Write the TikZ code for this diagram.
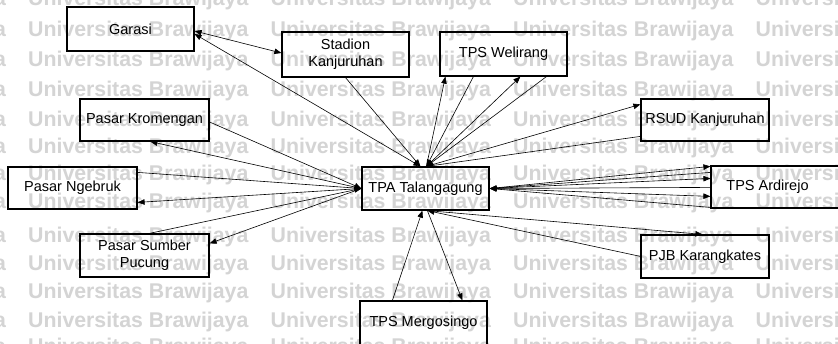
\documentclass[tikz,border=0pt]{standalone}
\usepackage{fontspec}
\setmainfont{Liberation Sans}
\usetikzlibrary{arrows.meta,calc}
\definecolor{wmgray}{RGB}{212,212,212}
\begin{document}
\begin{tikzpicture}[x=1pt,y=-1pt,
  box/.style={draw,line width=1.2pt,minimum width=127pt,minimum height=44pt,
    inner sep=0pt,font=\fontsize{14.5}{16.5}\selectfont,align=center},
  link/.style={line width=0.6pt},
  arr/.style={link,-{Triangle[length=7pt,width=5.5pt]}},
  both/.style={link,{Triangle[length=7pt,width=5.5pt]}-{Triangle[length=7pt,width=5.5pt]}},
  wm/.style={text=wmgray,font=\bfseries\fontsize{21.3}{21.3}\selectfont,anchor=west,inner sep=0pt}
]
\useasboundingbox (0,0) rectangle (838,344);
\fill[white] (0,0) rectangle (838,344);

% background watermark rows
\foreach \y [count=\r] in {0,30.5,61,90.5,121,147.5,175,203,237,264.5,293,322,348} {
  \foreach \c in {-1,0,1,2,3} {
    \node[wm] (wm-\r-\c) at (28+242.5*\c, \y) {Universitas Brawijaya};
  }
}

% locations
\node[box,minimum width=127pt,minimum height=44pt] (garasi) at (130.5,29) {Garasi};
\node[box,minimum width=127pt,minimum height=45pt] (stadion) at (345.5,54.5) {Stadion\\Kanjuruhan};
\node[box,minimum width=127pt,minimum height=44pt] (welirang) at (503.5,54) {TPS Welirang};
\node[box,minimum width=129pt,minimum height=42pt] (kromengan) at (144.5,120) {Pasar Kromengan};
\node[box,minimum width=128pt,minimum height=42pt] (rsud) at (705,120) {RSUD Kanjuruhan};
\node[box,minimum width=129pt,minimum height=42pt] (ngebruk) at (72.5,188) {Pasar Ngebruk};
\node[box,minimum width=127pt,minimum height=43pt] (tpa) at (425.5,188.5) {TPA Talangagung};
\node[box,minimum width=134pt,minimum height=42pt] (ardirejo) at (778,187) {};
\node[inner sep=0pt,font=\fontsize{14.5}{16.5}\selectfont] (ardirejo-label) at (767.5,187) {TPS Ardirejo};
\node[box,minimum width=129pt,minimum height=43pt] (sumber) at (144.5,255.5) {Pasar Sumber\\Pucung};
\node[box,minimum width=128pt,minimum height=43pt] (pjb) at (705,256.5) {PJB Karangkates};
\node[box,minimum width=127pt,minimum height=44pt] (mergosingo) at (423.5,323) {TPS Mergosingo};

% connector end points on the box borders
\coordinate (tpaTL) at ($(tpa.north west)+(59,0)$);
\coordinate (tpaTR) at ($(tpa.north west)+(65,0)$);
\coordinate (tpaBL) at ($(tpa.south west)+(61,0)$);
\coordinate (tpaBR) at ($(tpa.south west)+(66,0)$);
\coordinate (gar1) at ($(garasi.east)+(0,2)$);
\coordinate (gar2) at ($(garasi.east)+(0,5)$);
\coordinate (sta1) at ($(stadion.west)+(0,-1.5)$);
\coordinate (wel1) at ($(welirang.south west)+(6,0)$);
\coordinate (wel2) at ($(welirang.south west)+(34,0)$);
\coordinate (wel3) at ($(welirang.south west)+(81,0)$);
\coordinate (wel4) at ($(welirang.south west)+(107,0)$);
\coordinate (rsud1) at ($(rsud.north west)+(0,6)$);
\coordinate (rsud2) at ($(rsud.north west)+(0,38)$);
\coordinate (krom1) at ($(kromengan.east)+(0,2)$);
\coordinate (krom2) at ($(kromengan.south west)+(71,0)$);
\coordinate (ngb1) at ($(ngebruk.north east)+(0,6)$);
\coordinate (ngb2) at ($(ngebruk.north east)+(0,36)$);
\coordinate (sum1) at ($(sumber.north west)+(70,0)$);
\coordinate (sum2) at ($(sumber.north east)+(0,10)$);
\coordinate (ard1) at ($(ardirejo.north west)+(0,1)$);
\coordinate (ard2) at ($(ardirejo.north west)+(0,7)$);
\coordinate (ard3) at ($(ardirejo.north west)+(0,13)$);
\coordinate (ard4) at ($(ardirejo.north west)+(0,22)$);
\coordinate (ard5) at ($(ardirejo.north west)+(0,31)$);
\coordinate (ard6) at ($(ardirejo.north west)+(0,42)$);
\coordinate (pjb1) at ($(pjb.north west)+(62,0)$);
\coordinate (pjb2) at ($(pjb.north west)+(0,22)$);
\coordinate (mer1) at ($(mergosingo.north west)+(33,0)$);
\coordinate (mer2) at ($(mergosingo.north west)+(103,0)$);

% routes
\draw[both] (gar1) -- (sta1);
\draw[both] (gar2) -- (tpaTL);
\draw[arr] (stadion.south) -- (tpaTL);
\draw[arr] (tpaTR) -- (wel1);
\draw[arr] (wel2) -- (tpaTR);
\draw[arr] (tpaTR) -- (wel3);
\draw[arr] (wel4) -- (tpaTR);
\draw[arr] (tpaTR) -- (rsud1);
\draw[arr] (rsud2) -- (tpaTR);
\draw[arr] (krom1) -- (tpa.west);
\draw[arr] (tpa.west) -- (krom2);
\draw[arr] (ngb1) -- (tpa.west);
\draw[arr] (tpa.west) -- (ngb2);
\draw[arr] (sum1) -- (tpa.west);
\draw[arr] (tpa.west) -- (sum2);
\draw[arr] (tpa.east) -- (ard1);
\draw[arr] (ard2) -- (tpa.east);
\draw[arr] (tpa.east) -- (ard3);
\draw[arr] (ard4) -- (tpa.east);
\draw[arr] (tpa.east) -- (ard5);
\draw[arr] (ard6) -- (tpa.east);
\draw[arr] (tpaBR) -- (pjb1);
\draw[arr] (pjb2) -- (tpaBR);
\draw[arr] (mer1) -- (tpaBL);
\draw[arr] (tpaBR) -- (mer2);
\end{tikzpicture}
\end{document}
